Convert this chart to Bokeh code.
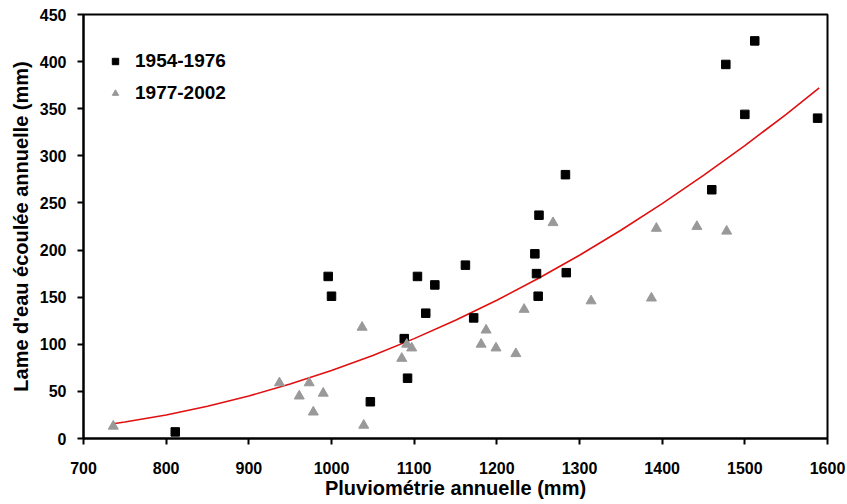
from bokeh.plotting import figure
from bokeh.models import Range1d, FixedTicker, Legend, LegendItem
from bokeh.embed import file_html
from bokeh.resources import INLINE

# 1954-1976 (black squares)
p1_rain = [811, 996, 1000, 1047, 1088, 1092, 1104, 1114, 1125, 1162, 1172,
           1246, 1248, 1250, 1251, 1283, 1284, 1460, 1477, 1500, 1512, 1588]
p1_runoff = [7, 172, 151, 39, 106, 64, 172, 133, 163, 184, 128,
             196, 175, 151, 237, 280, 176, 264, 397, 344, 422, 340]

# 1977-2002 (grey triangles)
p2_rain = [736, 937, 961, 973, 978, 990, 1037, 1039, 1085, 1091, 1097,
           1181, 1187, 1199, 1223, 1233, 1268, 1314, 1387, 1393, 1442, 1478]
p2_runoff = [13, 59, 45, 59, 28, 48, 118, 14, 85, 100, 96,
             100, 115, 96, 90, 137, 229, 146, 149, 223, 225, 220]

# trend curve
trend_rain = [736, 750, 800, 850, 900, 950, 1000, 1050, 1100, 1150, 1200,
              1250, 1300, 1350, 1400, 1450, 1500, 1550, 1590]
trend_runoff = [15.7, 17.5, 24.9, 34.2, 45.1, 57.8, 72.1, 88.2, 106.0, 125.6, 146.8,
                169.8, 194.5, 221.0, 249.3, 279.2, 310.8, 344.1, 372.1]

x_ticks = [700, 800, 900, 1000, 1100, 1200, 1300, 1400, 1500, 1600]
y_ticks = [0, 50, 100, 150, 200, 250, 300, 350, 400, 450]

FONT = "Liberation Sans"

p = figure(width=847, height=504, output_backend="svg",
           toolbar_location=None,
           x_range=Range1d(700, 1600), y_range=Range1d(0, 450),
           min_border_left=83, min_border_top=14, min_border_right=20,
           min_border_bottom=66)
p.background_fill_color = "white"
p.border_fill_color = "white"
p.grid.visible = False
p.outline_line_color = "black"
p.outline_line_width = 2

r_line = p.line(trend_rain, trend_runoff, line_color="#e01010", line_width=1.6)
r1 = p.scatter(p1_rain, p1_runoff, marker="square", size=8.5,
               fill_color="black", line_color="black")
r2 = p.scatter(p2_rain, p2_runoff, marker="triangle", size=10,
               fill_color="#999999", line_color="#999999")

for ax in (p.xaxis[0], p.yaxis[0]):
    ax.axis_line_color = "black"
    ax.axis_line_width = 2
    ax.major_tick_line_width = 2
    ax.major_tick_in = 0
    ax.major_tick_out = 6
    ax.minor_tick_line_color = None
    ax.major_label_text_font = FONT
    ax.major_label_text_font_style = "bold"
    ax.major_label_text_font_size = "16px"
    ax.major_label_text_color = "black"
    ax.axis_label_text_font = FONT
    ax.axis_label_text_font_style = "bold"
    ax.axis_label_text_font_size = "20px"
    ax.axis_label_text_color = "black"

p.xaxis[0].ticker = FixedTicker(ticks=x_ticks)
p.yaxis[0].ticker = FixedTicker(ticks=y_ticks)
p.xaxis[0].axis_label = "Pluviométrie annuelle (mm)"
p.yaxis[0].axis_label = "Lame d'eau écoulée annuelle (mm)"
p.xaxis[0].major_label_standoff = 17
p.yaxis[0].major_label_standoff = 11
p.xaxis[0].axis_label_standoff = 0
p.yaxis[0].axis_label_standoff = 5

legend = Legend(items=[LegendItem(label="1954-1976", renderers=[r1]),
                       LegendItem(label="1977-2002", renderers=[r2])],
                location=(22, 334))
legend.padding = 0
legend.margin = 0
legend.spacing = 10
legend.glyph_width = 20
legend.glyph_height = 16
legend.label_height = 20
legend.label_standoff = 10
legend.label_text_font = FONT
legend.label_text_font_style = "bold"
legend.label_text_font_size = "19px"
legend.label_text_color = "black"
legend.border_line_color = None
legend.background_fill_alpha = 0
p.add_layout(legend)

open("out.html", "w").write(file_html(p, INLINE))
